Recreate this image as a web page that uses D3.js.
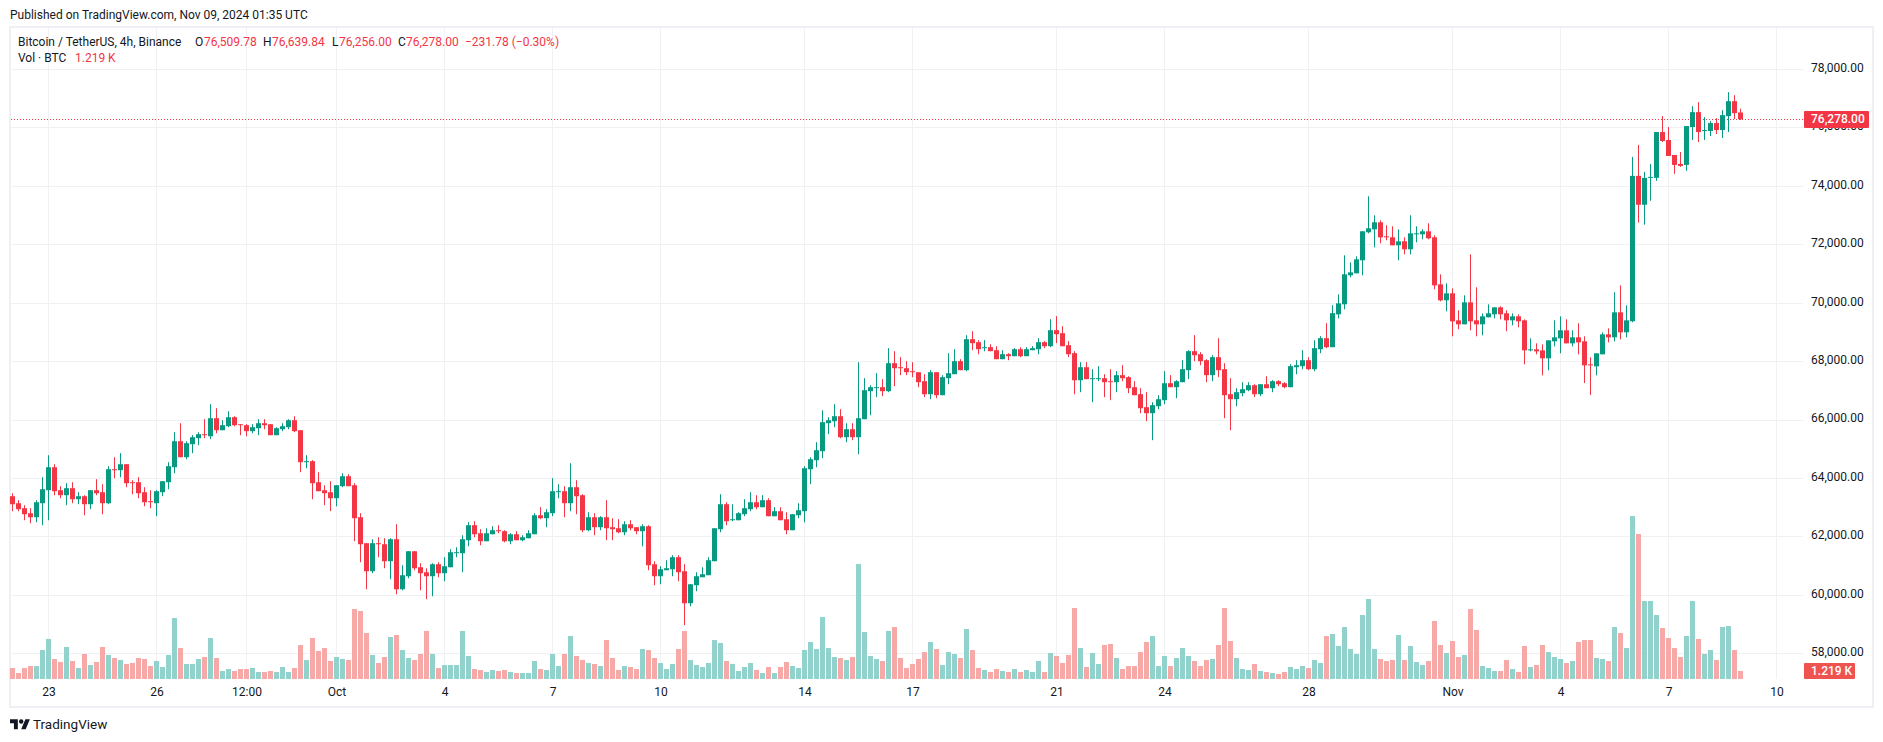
<!DOCTYPE html>
<html>
<head>
<meta charset="utf-8">
<script src="https://d3js.org/d3.v7.min.js"></script>
<style>
  body { margin: 0; background: #fff; }
  text { font-family: Roboto, sans-serif; }
</style>
</head>
<body>
<script>
// BTC/USDT 4h bars, Sep 22 - Nov 9 2024
var opens = [
63376,63136,62965,62794,62657,63136,63581,64368,63581,63410,
63650,63273,63376,63102,63581,63513,63136,64300,64266,64471,
63855,63855,63513,63205,63136,63513,63855,64368,65258,64711,
65156,65361,65498,65429,66046,65635,65772,66080,65840,65806,
65601,65703,65874,65840,65464,65669,65738,65977,65635,64540,
64574,63855,63581,63513,63307,63718,64060,63752,62657,61767,
60808,61767,61733,61151,61904,60192,60637,61493,60945,60774,
60637,61048,60740,60945,61425,61425,61870,62383,62109,61835,
62075,62212,62178,61835,62075,61870,61938,62075,62725,62623,
62794,63513,63547,63136,63684,63410,62212,62657,62315,62657,
62315,62280,62143,62417,62315,62178,62349,61048,60637,60843,
60877,61288,60808,59713,60329,60603,60672,61151,62246,63102,
62554,62554,62760,62931,63170,62999,63239,62691,62862,62588,
62212,62725,62862,64300,64608,64916,65874,65943,66114,65395,
65669,65395,66011,66970,67072,67107,66970,67928,67791,67757,
67654,67620,67312,66867,67620,66833,67415,67552,67997,67689,
68750,68647,68442,68476,68373,68065,68236,68168,68407,68168,
68373,68407,68647,68510,69058,68955,68544,68271,67346,67791,
67381,67381,67415,67312,67278,67518,67449,67107,66867,66422,
66217,66456,66662,67243,67107,67278,67689,68339,68236,68031,
67518,68134,67723,66867,66696,66901,67004,67175,66867,67209,
67072,67312,67243,67107,67791,67826,68031,67723,68407,68784,
68476,69601,69943,70936,71004,71449,72408,72510,72750,72271,
72236,71963,72099,71826,72339,72339,72442,72236,70628,70080,
70319,69395,69259,70011,69395,69259,69498,69601,69840,69635,
69395,69532,69395,68368,68403,68368,68095,68677,68779,69053,
68608,68813,68677,67889,67821,68232,68916,68813,69669,68985,
69364,74339,73351,74271,74271,75839,75566,75055,74748,74714,
76009,76520,75873,75873,76146,75907,76384,76895,76509.78];

var highs = [
63478,63239,63068,62965,63239,64026,64779,64471,63718,63821,
63855,63513,63410,63581,63958,63786,64403,64711,64848,64471,
63923,64026,63684,63581,63581,63889,64540,65566,65874,65258,
65464,65566,66011,66525,66388,65977,66285,66114,65840,65840,
65840,66011,66011,65840,65738,65874,66011,66114,65635,64779,
64608,64197,63752,63889,63752,64163,64129,63821,62794,61767,
61904,61972,61938,61938,62417,61014,61493,61493,61082,60911,
61082,61117,61288,61562,61630,62041,62486,62520,62246,62280,
62349,62383,62212,62109,62178,62041,62212,62794,63003,62931,
63992,63786,63718,64505,63923,63444,62828,62794,62691,63239,
62623,62588,62520,62554,62315,62417,62383,61151,60980,61185,
61356,61356,61048,60363,60774,60945,61288,62280,63444,63170,
63102,62828,63273,63513,63410,63410,63307,62999,62999,62828,
62760,63136,64403,64711,65224,66319,66080,66525,66354,65874,
65874,67963,67415,67175,67586,67381,68442,68339,68134,67997,
67963,67620,67552,67689,67620,67518,68271,68407,68065,68887,
69024,68716,68716,68579,68510,68373,68271,68442,68476,68476,
68510,68784,68681,69434,69537,69195,68681,68339,67963,67963,
67723,67826,67552,67723,67655,67860,67483,67312,67072,66936,
66593,66833,67655,67518,67346,68031,68373,68887,68305,68065,
68202,68784,67928,67415,67072,67278,67278,67209,67209,67483,
67346,67346,67278,67894,68031,68373,68134,68716,68852,69297,
69914,70285,71620,71381,71586,72442,73640,72989,72818,72647,
72613,72510,72236,72989,72613,72510,72716,72305,70970,70662,
70491,69738,70251,71654,70525,69635,69943,69840,69874,69738,
69635,69601,69429,68779,68608,68574,68711,69395,69532,69429,
69053,69293,68848,68129,68266,68985,69122,70354,70593,69909,
74987,75396,74476,74748,75839,76384,76009,75055,75157,76043,
76725,76861,76350,76214,76316,76589,77202,77100,76639.84];

var lows = [
62862,62862,62554,62451,62486,62383,62554,63410,63307,63068,
63136,63102,62725,62931,63410,62760,63102,63992,64026,63684,
63444,63307,63033,62965,62691,63376,63615,64163,64711,64642,
64848,65121,65361,65327,65532,65635,65738,65772,65464,65429,
65532,65464,65669,65464,65464,65601,65669,65566,64197,64334,
63273,63547,63068,62862,63033,63684,63718,61835,61117,60192,
60740,61288,60911,60535,60021,60158,60569,60843,60158,59850,
59953,60603,60466,60945,61288,60774,61664,61972,61698,61835,
62075,62109,61801,61733,61870,61835,61938,62075,62588,62315,
62691,63307,62657,62862,62760,62143,62178,62041,62212,61870,
61870,62109,62041,62212,62075,61664,60843,60329,60363,60843,
60637,60466,58960,59610,60124,60603,60672,61151,62143,62383,
62520,62554,62691,62862,62931,62999,62691,62691,62554,62075,
62212,62623,62486,63786,64368,64676,65498,65738,65361,65224,
65293,64813,66011,66148,66765,66799,66936,67141,67518,67518,
67449,67107,66765,66696,66730,66833,67209,67552,67689,67654,
68373,68236,68339,68339,68065,68065,68031,68168,68134,68168,
68373,68236,68442,68476,68613,68510,68134,66867,66936,67381,
66593,67312,66765,66662,66936,67312,66901,66833,66217,65943,
65293,66354,66525,67107,66730,67278,67381,67997,67860,67278,
67312,67449,66046,65635,66456,66799,66970,66765,66799,67072,
66936,67141,67072,67107,67552,67723,67689,67654,68271,68442,
68476,69464,69772,70867,71004,70936,72373,71894,72031,72134,
71963,71449,71654,71654,72065,72168,72168,70457,70046,69703,
68848,69087,69259,69053,68848,68882,69498,69464,69429,69019,
69224,69156,67889,68334,68232,67513,67684,68505,68266,68608,
68505,68232,67249,66839,67513,68232,68642,68677,68745,68813,
69330,72738,72669,73487,74169,75498,75021,74407,74646,74510,
75566,75498,75566,75703,75771,75634,75839,76282,76256];

var closes = [
63102,62931,62760,62657,63170,63615,64368,63547,63410,63650,
63273,63376,63102,63581,63478,63136,64300,64266,64471,63821,
63821,63478,63170,63170,63547,63889,64403,65258,64711,65190,
65395,65498,65475,66046,65635,65806,66080,65806,65817,65601,
65738,65874,65806,65464,65703,65772,65977,65601,64540,64574,
63821,63547,63478,63307,63752,64060,63718,62623,61733,60808,
61767,61733,61151,61904,60192,60672,61493,60911,60740,60637,
61048,60740,60980,61459,61459,61904,62383,62075,61835,62109,
62212,62178,61835,62075,61870,61972,62109,62725,62623,62828,
63547,63547,63136,63684,63376,62212,62657,62315,62657,62280,
62246,62143,62417,62280,62178,62349,61014,60637,60877,60911,
61288,60774,59713,60363,60637,60706,61185,62280,63102,62520,
62588,62794,62965,63170,62999,63239,62691,62862,62554,62212,
62760,62896,64334,64642,64950,65909,65977,66114,65395,65669,
65395,66046,67004,67107,67107,66970,67928,67757,67769,67620,
67632,67278,66867,67620,66833,67449,67586,67997,67689,68750,
68613,68407,68476,68339,68065,68236,68168,68407,68168,68407,
68442,68647,68510,69058,68921,68510,68236,67346,67791,67381,
67415,67415,67278,67289,67518,67415,67072,66833,66388,66217,
66491,66696,67243,67107,67312,67723,68339,68202,67997,67518,
68134,67689,66833,66696,66936,67038,67175,66867,67209,67072,
67312,67209,67107,67826,67860,68031,67723,68442,68784,68476,
69640,69977,70970,71038,71483,72442,72544,72750,72236,72236,
71963,72099,71826,72373,72373,72442,72202,70593,70080,70319,
69361,69259,70011,69361,69259,69532,69635,69840,69601,69395,
69532,69361,68368,68403,68334,68095,68711,68813,69053,68608,
68813,68642,67855,67855,68266,68916,68813,69669,68985,69395,
74339,73351,74271,74305,75839,75532,75021,74714,74680,76043,
76520,75839,75907,76146,75907,76418,76895,76486,76278];

// volume in thousands of BTC
var volumes = [
1.68,0.91,1.68,1.98,1.98,4.42,6.10,3.05,2.59,4.88,
2.74,1.68,3.81,2.13,2.59,4.88,3.66,3.20,2.90,2.29,
2.44,3.20,3.05,1.98,2.74,1.83,3.66,9.30,4.72,2.29,
2.29,3.05,3.35,6.25,3.20,1.22,1.52,1.22,1.52,1.52,
1.68,1.07,1.07,1.22,1.07,1.83,1.07,1.68,5.18,2.90,
6.25,4.27,4.72,2.74,3.35,3.05,2.90,10.67,10.36,7.01,
3.66,2.44,3.35,6.40,6.71,4.42,3.20,2.90,3.81,7.32,
3.81,1.68,2.13,2.13,2.13,7.32,3.51,1.52,1.37,1.07,
1.37,1.22,1.37,1.07,0.91,0.91,0.91,2.74,1.52,1.37,
3.81,1.98,3.81,6.55,3.51,2.90,2.44,2.29,1.98,5.94,
3.20,1.37,1.98,1.83,1.52,4.57,4.42,3.20,2.44,1.52,
2.29,4.57,7.32,2.90,2.13,1.83,2.44,5.94,5.49,2.74,
2.29,1.22,1.83,2.44,1.37,0.91,1.83,0.91,1.83,2.59,
1.98,1.68,4.42,5.64,4.57,9.45,4.72,3.35,3.20,2.90,
3.35,17.53,7.16,3.51,3.05,2.74,7.32,7.92,3.20,1.68,
2.29,3.05,4.11,5.64,4.57,2.13,4.11,3.81,3.20,7.62,
4.42,1.68,1.37,1.07,1.52,1.22,1.07,1.52,1.07,1.37,
1.07,2.74,1.07,3.96,3.51,2.44,3.66,10.82,4.72,1.83,
3.96,2.29,5.18,5.33,3.20,1.52,1.98,1.98,4.11,5.64,
6.55,1.98,3.51,1.98,3.20,4.72,3.51,2.74,1.98,2.90,
3.05,5.18,10.82,5.79,3.20,1.52,1.37,2.29,1.22,1.07,
0.91,0.76,1.07,1.83,1.52,1.98,1.68,2.90,2.44,6.55,
6.86,5.03,7.92,4.57,3.81,9.75,12.19,4.57,3.05,2.74,
2.90,6.71,2.90,5.03,2.59,2.13,2.74,8.84,5.18,3.96,
5.79,3.35,3.66,10.67,7.47,1.98,1.68,1.22,1.22,2.90,
1.52,1.07,5.03,1.83,2.13,5.18,4.11,3.35,3.05,2.44,
2.74,5.64,5.94,5.94,3.20,3.05,2.74,7.92,7.01,4.72,
24.84,22.10,11.89,11.89,9.75,7.77,6.25,4.72,3.35,6.55,
11.89,6.10,3.81,4.42,2.90,7.92,8.08,4.42,1.219];

var priceTicks = [58000,60000,62000,64000,66000,68000,70000,72000,74000,76000,78000];
var timeTicks = ["2024-09-23","2024-09-26","2024-09-28T12:00","2024-10-01","2024-10-04","2024-10-07","2024-10-10","2024-10-14","2024-10-17","2024-10-21","2024-10-24","2024-10-28","2024-11-01","2024-11-04","2024-11-07","2024-11-10"];
var timeLabels = ["23","26","12:00","Oct","4","7","10","14","17","21","24","28","Nov","4","7","10"];

var lastPrice = 76278;
var upColor = "#089981", downColor = "#f23645";
var upVol = "#92d2cc", downVol = "#f7a9a7";
var gridColor = "#f0f1f5", textColor = "#131722";

var width = 1883, height = 742;

var svg = d3.select("body")
            .append("svg")
            .attr("width", width)
            .attr("height", height)
            .style("display", "block");

var tickDate = function(s) { return new Date(s + (s.length > 10 ? ":00Z" : "T00:00:00Z")); };
var firstBar = tickDate("2024-09-22");
var barDate = function(i) { return d3.utcHour.offset(firstBar, 4 * i); };

var x = d3.scaleUtc()
          .domain([firstBar, barDate(288)])
          .range([12.5, 1740.5]);
var y = d3.scaleLinear()
          .domain([58000, 78000])
          .range([653.3, 68.9]);
var yVol = d3.scaleLinear()
             .domain([0, 24.84])
             .range([679, 516]);

// frame
svg.append("rect")
   .attr("x", 10).attr("y", 27).attr("width", 1863).attr("height", 680)
   .attr("fill", "#fff").attr("stroke", "#eff0f5").attr("stroke-width", 2);

// grid
svg.append("g").selectAll("line")
   .data(priceTicks).enter().append("line")
   .attr("x1", 11).attr("x2", 1803)
   .attr("y1", function(d) { return Math.round(y(d)) + 0.5; })
   .attr("y2", function(d) { return Math.round(y(d)) + 0.5; })
   .attr("stroke", gridColor);
svg.append("g").selectAll("line")
   .data(timeTicks).enter().append("line")
   .attr("x1", function(d) { return Math.floor(x(tickDate(d))) + 0.5; })
   .attr("x2", function(d) { return Math.floor(x(tickDate(d))) + 0.5; })
   .attr("y1", 28).attr("y2", 679)
   .attr("stroke", gridColor);

var bars = d3.range(opens.length);
var isUp = function(i) { return closes[i] >= opens[i]; };

// volume
svg.append("g").selectAll("rect")
   .data(bars).enter().append("rect")
   .attr("x", function(i) { return Math.floor(x(barDate(i))) - 2; })
   .attr("width", 5)
   .attr("y", function(i) { return yVol(volumes[i]); })
   .attr("height", function(i) { return 679 - yVol(volumes[i]); })
   .attr("fill", function(i) { return isUp(i) ? upVol : downVol; });

// last price line
svg.append("line")
   .attr("x1", 11).attr("x2", 1804)
   .attr("y1", Math.round(y(lastPrice)) + 0.5).attr("y2", Math.round(y(lastPrice)) + 0.5)
   .attr("stroke", downColor)
   .attr("stroke-dasharray", "1,2");

// candles
svg.append("g").selectAll("line")
   .data(bars).enter().append("line")
   .attr("x1", function(i) { return Math.floor(x(barDate(i))) + 0.5; })
   .attr("x2", function(i) { return Math.floor(x(barDate(i))) + 0.5; })
   .attr("y1", function(i) { return y(highs[i]); })
   .attr("y2", function(i) { return y(lows[i]); })
   .attr("stroke", function(i) { return isUp(i) ? upColor : downColor; });
svg.append("g").selectAll("rect")
   .data(bars).enter().append("rect")
   .attr("x", function(i) { return Math.floor(x(barDate(i))) - 2; })
   .attr("width", 5)
   .attr("y", function(i) { return y(Math.max(opens[i], closes[i])); })
   .attr("height", function(i) { return Math.max(1, Math.abs(y(opens[i]) - y(closes[i]))); })
   .attr("fill", function(i) { return isUp(i) ? upColor : downColor; });

// axes
var yAxis = d3.axisRight(y)
              .tickValues(priceTicks)
              .tickFormat(d3.format(",.2f"))
              .tickSize(0)
              .tickPadding(0);
var gy = svg.append("g").attr("transform", "translate(1811,-1.5)").call(yAxis);
var xAxis = d3.axisBottom(x)
              .tickValues(timeTicks.map(tickDate))
              .tickFormat(function(d, i) { return timeLabels[i]; })
              .tickSize(0)
              .tickPadding(8);
var gx = svg.append("g").attr("transform", "translate(0,679)").call(xAxis);
[gy, gx].forEach(function(g) {
  g.select(".domain").remove();
  g.selectAll("text")
   .style("font-family", "Roboto, sans-serif")
   .style("font-size", "12px")
   .attr("fill", textColor);
});

// value labels on the price axis
svg.append("rect")
   .attr("x", 1804).attr("y", 111).attr("width", 65).attr("height", 17)
   .attr("rx", 1).attr("fill", downColor);
svg.append("text")
   .attr("x", 1811).attr("y", y(lastPrice) + 4)
   .attr("font-size", 12).attr("font-weight", 500).attr("fill", "#fff")
   .text(d3.format(",.2f")(lastPrice));
svg.append("rect")
   .attr("x", 1804).attr("y", 663).attr("width", 51).attr("height", 16)
   .attr("rx", 1).attr("fill", "#ef5350");
svg.append("text")
   .attr("x", 1811).attr("y", 675)
   .attr("font-size", 12).attr("font-weight", 500).attr("fill", "#fff")
   .text("1.219 K");

// header texts
function label(px, py, str, color) {
  svg.append("text")
     .attr("x", px).attr("y", py)
     .attr("font-size", 12).attr("fill", color || textColor)
     .text(str);
}
label(10, 19, "Published on TradingView.com, Nov 09, 2024 01:35 UTC");
label(18, 46, "Bitcoin / TetherUS, 4h, Binance");
label(195, 46, "O");
label(204, 46, "76,509.78", downColor);
label(263, 46, "H");
label(272, 46, "76,639.84", downColor);
label(332, 46, "L");
label(339, 46, "76,256.00", downColor);
label(398, 46, "C");
label(406, 46, "76,278.00", downColor);
label(465, 46, "\u2212231.78 (\u22120.30%)", downColor);
label(18, 62, "Vol \u00b7 BTC");
label(75, 62, "1.219 K", downColor);

// logo
var logo = svg.append("g").attr("transform", "translate(10,717) scale(0.56)").attr("fill", textColor);
logo.append("path").attr("d", "M14 22H7V11H0V4h14v18zM28 22h-8l7.5-18h8L28 22z");
logo.append("circle").attr("cx", 20).attr("cy", 8).attr("r", 4);
svg.append("text")
   .attr("x", 33).attr("y", 729)
   .attr("font-size", 13.5).attr("fill", textColor)
   .text("TradingView");
</script>
</body>
</html>
